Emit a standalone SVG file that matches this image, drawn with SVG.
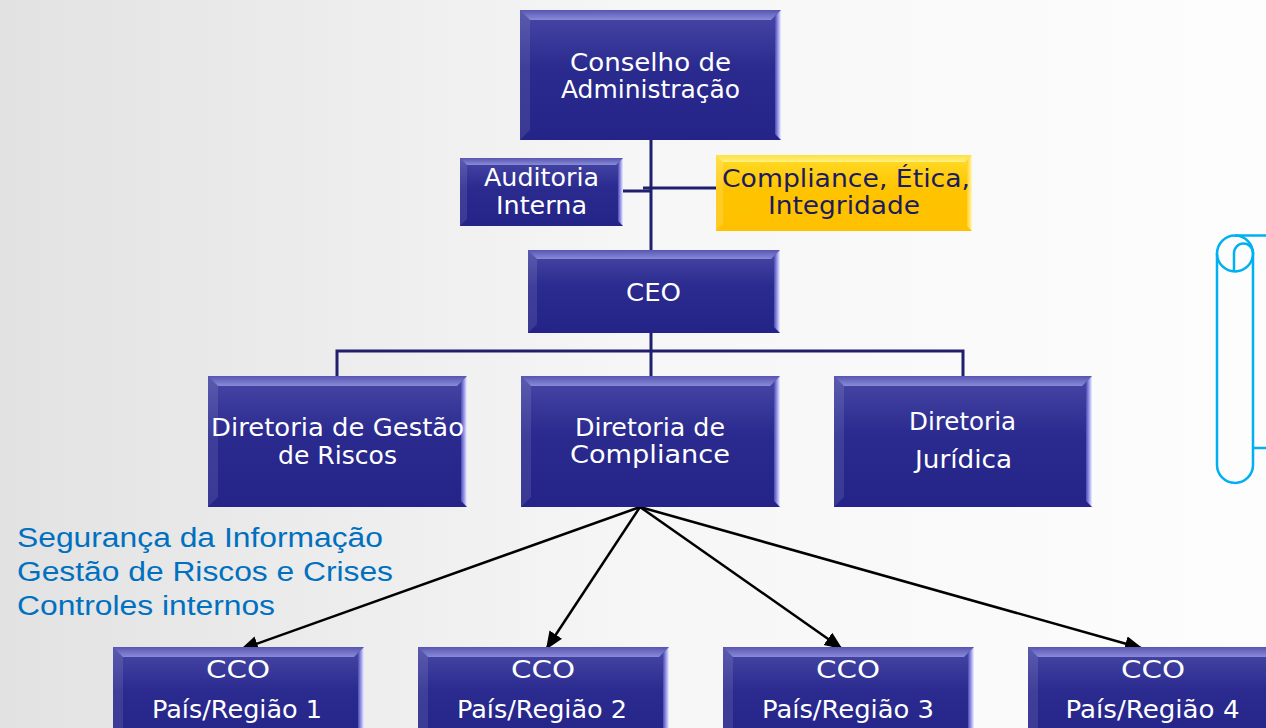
<svg xmlns="http://www.w3.org/2000/svg" width="1266" height="728" viewBox="0 0 1266 728">
<defs>
<linearGradient id="bg" x1="0" y1="0" x2="1" y2="0">
<stop offset="0" stop-color="#e2e2e2"/>
<stop offset="0.5" stop-color="#f6f6f6"/>
<stop offset="1" stop-color="#fdfdfd"/>
</linearGradient>
<linearGradient id="navy" x1="0" y1="0" x2="0" y2="1">
<stop offset="0" stop-color="#4848a6"/>
<stop offset="0.45" stop-color="#2a2a8f"/>
<stop offset="1" stop-color="#232388"/>
</linearGradient>
<linearGradient id="gold" x1="0" y1="0" x2="0" y2="1">
<stop offset="0" stop-color="#ffdc2a"/>
<stop offset="0.45" stop-color="#ffc400"/>
<stop offset="1" stop-color="#ffc000"/>
</linearGradient>
<linearGradient id="topbev" x1="0" y1="0" x2="0" y2="1">
<stop offset="0" stop-color="#5656b2"/>
<stop offset="1" stop-color="#8a8ad8"/>
</linearGradient>
<linearGradient id="rightbev" x1="0" y1="0" x2="1" y2="0">
<stop offset="0" stop-color="#4a4ab4"/>
<stop offset="0.6" stop-color="#a8a8f0"/>
<stop offset="1" stop-color="#f0f0ff"/>
</linearGradient>
<linearGradient id="ytopbev" x1="0" y1="0" x2="0" y2="1">
<stop offset="0" stop-color="#ffe040"/>
<stop offset="1" stop-color="#fff080"/>
</linearGradient>
<linearGradient id="yrightbev" x1="0" y1="0" x2="1" y2="0">
<stop offset="0" stop-color="#ffd020"/>
<stop offset="1" stop-color="#fff8c0"/>
</linearGradient>
<marker id="ah" markerUnits="userSpaceOnUse" markerWidth="19" markerHeight="16" refX="16" refY="7.5" orient="auto">
<path d="M0,0 L18,7.5 L0,15 Z" fill="#000"/>
</marker>
<style>
.box{fill:url(#navy)}
.ybox{fill:url(#gold)}
.bt{fill:url(#topbev)}
.bl{fill:#ffffff;fill-opacity:0.1}
.br{fill:url(#rightbev)}
.ybt{fill:url(#ytopbev)}
.ybl{fill:#ffffff;fill-opacity:0.15}
.ybr{fill:url(#yrightbev)}
.t{font-family:"DejaVu Sans","Liberation Sans",sans-serif;font-size:25px;fill:#ffffff;text-anchor:middle}
.yt{font-family:"DejaVu Sans","Liberation Sans",sans-serif;font-size:25px;fill:#1c1c5c;text-anchor:middle}
.side{font-family:"Liberation Sans",Arial,sans-serif;font-size:27px;fill:#0070c0}
.org{fill:none;stroke:#1f1f6e;stroke-width:3}
.arr{fill:none;stroke:#000;stroke-width:2.5;marker-end:url(#ah)}
.scroll{fill:none;stroke:#00b0f0;stroke-width:2.5;stroke-linejoin:round}
</style>
</defs>
<rect x="0" y="0" width="1266" height="728" fill="url(#bg)"/>

<g id="connectors">
<path class="org" d="M651,140 V250" stroke-width="5"/>
<path class="org" d="M623,191 H651"/>
<path class="org" d="M643,188 H716"/>
<path class="org" d="M651,333 V376" stroke-width="4"/>
<path class="org" d="M337,376 V351 H963 V376"/>
<path class="arr" d="M640,507 L242,649"/>
<path class="arr" d="M640,507 L547,648"/>
<path class="arr" d="M640,507 L841,648"/>
<path class="arr" d="M640,507 L1141,648"/>
</g>

<g id="conselho">
<rect class="box" x="520" y="10" width="261" height="130"/>
<path class="bt" d="M520,10 H781 L771,20 H530 Z"/>
<path class="bl" d="M520,10 L530,20 V130 L520,140 Z"/>
<path class="br" d="M781,10 V140 L775,134 V16 Z"/>
<text class="t" x="650.5" y="71" textLength="161" lengthAdjust="spacingAndGlyphs">Conselho de</text>
<text class="t" x="650.5" y="98" textLength="179" lengthAdjust="spacingAndGlyphs">Administração</text>
</g>

<g id="auditoria">
<rect class="box" x="460" y="158" width="163" height="68"/>
<path class="bt" d="M460,158 H623 L616,165 H467 Z"/>
<path class="bl" d="M460,158 L467,165 V219 L460,226 Z"/>
<path class="br" d="M623,158 V226 L618,221 V163 Z"/>
<text class="t" x="541.5" y="186" textLength="115" lengthAdjust="spacingAndGlyphs">Auditoria</text>
<text class="t" x="541.5" y="214" textLength="91" lengthAdjust="spacingAndGlyphs">Interna</text>
</g>

<g id="compliance-etica">
<rect class="ybox" x="716" y="155" width="256" height="76"/>
<path class="ybt" d="M716,155 H972 L965,162 H723 Z"/>
<path class="ybl" d="M716,155 L723,162 V224 L716,231 Z"/>
<path class="ybr" d="M972,155 V231 L967,226 V160 Z"/>
<text class="yt" x="846" y="187" textLength="248" lengthAdjust="spacingAndGlyphs">Compliance, Ética,</text>
<text class="yt" x="844" y="214" textLength="152" lengthAdjust="spacingAndGlyphs">Integridade</text>
</g>

<g id="ceo">
<rect class="box" x="528" y="250" width="252" height="83"/>
<path class="bt" d="M528,250 H780 L771,259 H537 Z"/>
<path class="bl" d="M528,250 L537,259 V324 L528,333 Z"/>
<path class="br" d="M780,250 V333 L774,327 V256 Z"/>
<text class="t" x="653.5" y="301" textLength="55" lengthAdjust="spacingAndGlyphs">CEO</text>
</g>

<g id="diretoria-riscos">
<rect class="box" x="208" y="376" width="259" height="131"/>
<path class="bt" d="M208,376 H467 L457,386 H218 Z"/>
<path class="bl" d="M208,376 L218,386 V497 L208,507 Z"/>
<path class="br" d="M467,376 V507 L461,501 V382 Z"/>
<text class="t" x="337.5" y="436" textLength="253" lengthAdjust="spacingAndGlyphs">Diretoria de Gestão</text>
<text class="t" x="337.5" y="464" textLength="119" lengthAdjust="spacingAndGlyphs">de Riscos</text>
</g>

<g id="diretoria-compliance">
<rect class="box" x="521" y="376" width="259" height="131"/>
<path class="bt" d="M521,376 H780 L770,386 H531 Z"/>
<path class="bl" d="M521,376 L531,386 V497 L521,507 Z"/>
<path class="br" d="M780,376 V507 L774,501 V382 Z"/>
<text class="t" x="650" y="436" textLength="150" lengthAdjust="spacingAndGlyphs">Diretoria de</text>
<text class="t" x="650" y="463" textLength="160" lengthAdjust="spacingAndGlyphs">Compliance</text>
</g>

<g id="diretoria-juridica">
<rect class="box" x="834" y="376" width="258" height="131"/>
<path class="bt" d="M834,376 H1092 L1082,386 H844 Z"/>
<path class="bl" d="M834,376 L844,386 V497 L834,507 Z"/>
<path class="br" d="M1092,376 V507 L1086,501 V382 Z"/>
<text class="t" x="962.5" y="430" textLength="107" lengthAdjust="spacingAndGlyphs">Diretoria</text>
<text class="t" x="963.5" y="468" textLength="97" lengthAdjust="spacingAndGlyphs">Jurídica</text>
</g>

<g id="side-list">
<text class="side" x="17" y="547" textLength="366" lengthAdjust="spacingAndGlyphs">Segurança da Informação</text>
<text class="side" x="17" y="581" textLength="376" lengthAdjust="spacingAndGlyphs">Gestão de Riscos e Crises</text>
<text class="side" x="17" y="615" textLength="258" lengthAdjust="spacingAndGlyphs">Controles internos</text>
</g>

<g id="cco1">
<rect class="box" x="113" y="647" width="251" height="100"/>
<path class="bt" d="M113,647 H364 L354,657 H123 Z"/>
<path class="bl" d="M113,647 L123,657 V740 L113,750 Z"/>
<path class="br" d="M364,647 V750 L358,744 V653 Z"/>
<text class="t" x="238" y="678" textLength="64" lengthAdjust="spacingAndGlyphs">CCO</text>
<text class="t" x="237" y="718" textLength="170" lengthAdjust="spacingAndGlyphs">País/Região 1</text>
</g>

<g id="cco2">
<rect class="box" x="418" y="647" width="251" height="100"/>
<path class="bt" d="M418,647 H669 L659,657 H428 Z"/>
<path class="bl" d="M418,647 L428,657 V740 L418,750 Z"/>
<path class="br" d="M669,647 V750 L663,744 V653 Z"/>
<text class="t" x="543" y="678" textLength="64" lengthAdjust="spacingAndGlyphs">CCO</text>
<text class="t" x="542" y="718" textLength="170" lengthAdjust="spacingAndGlyphs">País/Região 2</text>
</g>

<g id="cco3">
<rect class="box" x="723" y="647" width="251" height="100"/>
<path class="bt" d="M723,647 H974 L964,657 H733 Z"/>
<path class="bl" d="M723,647 L733,657 V740 L723,750 Z"/>
<path class="br" d="M974,647 V750 L968,744 V653 Z"/>
<text class="t" x="848" y="678" textLength="64" lengthAdjust="spacingAndGlyphs">CCO</text>
<text class="t" x="848" y="718" textLength="172" lengthAdjust="spacingAndGlyphs">País/Região 3</text>
</g>

<g id="cco4">
<rect class="box" x="1028" y="647" width="251" height="100"/>
<path class="bt" d="M1028,647 H1279 L1269,657 H1038 Z"/>
<path class="bl" d="M1028,647 L1038,657 V740 L1028,750 Z"/>
<text class="t" x="1153" y="678" textLength="64" lengthAdjust="spacingAndGlyphs">CCO</text>
<text class="t" x="1152.5" y="718" textLength="174" lengthAdjust="spacingAndGlyphs">País/Região 4</text>
</g>

<g id="scroll-icon">
<circle class="scroll" cx="1235" cy="253.5" r="18"/>
<path class="scroll" d="M1235,235.5 H1268"/>
<path class="scroll" d="M1234,271.5 V253 A9.5,9.5 0 0 1 1253,253"/>
<path class="scroll" d="M1217,253.5 V465 A18,18 0 0 0 1253,465 V253"/>
<path class="scroll" d="M1253,448 H1268"/>
</g>
</svg>
